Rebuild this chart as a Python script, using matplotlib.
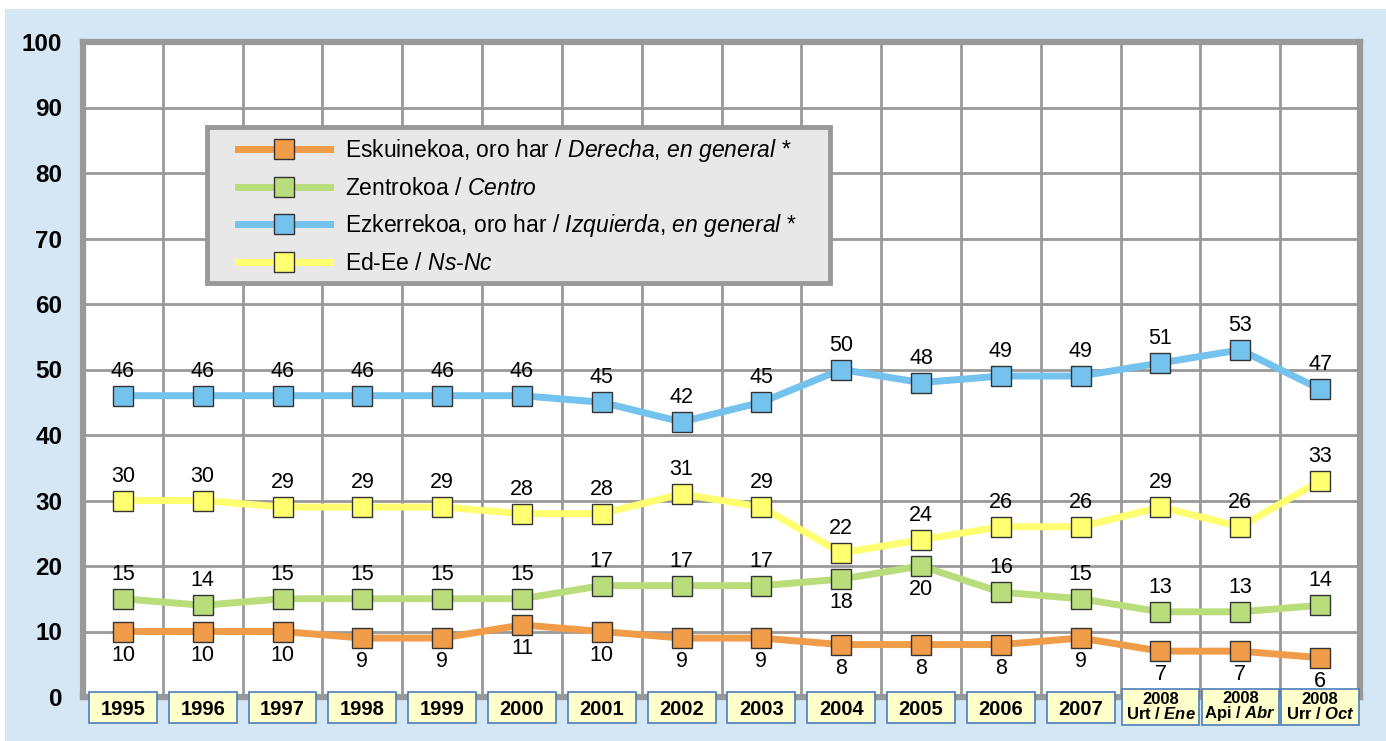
import matplotlib.pyplot as plt
from matplotlib.patches import Rectangle
import matplotlib.transforms as mtransforms

plt.rcParams['font.family'] = ['Liberation Sans', 'DejaVu Sans']
plt.rcParams['mathtext.fontset'] = 'custom'
plt.rcParams['mathtext.rm'] = 'Liberation Sans'
plt.rcParams['mathtext.it'] = 'Liberation Sans:italic'
plt.rcParams['mathtext.bf'] = 'Liberation Sans:bold'
plt.rcParams['mathtext.bfit'] = 'Liberation Sans:bold:italic'

# data
years = ['1995', '1996', '1997', '1998', '1999', '2000', '2001', '2002',
         '2003', '2004', '2005', '2006', '2007',
         '2008\nUrt / $\\mathbfit{Ene}$', '2008\nApi / $\\mathbfit{Abr}$',
         '2008\nUrr / $\\mathbfit{Oct}$']
derecha = [10, 10, 10, 9, 9, 11, 10, 9, 9, 8, 8, 8, 9, 7, 7, 6]
centro = [15, 14, 15, 15, 15, 15, 17, 17, 17, 18, 20, 16, 15, 13, 13, 14]
izquierda = [46, 46, 46, 46, 46, 46, 45, 42, 45, 50, 48, 49, 49, 51, 53, 47]
nsnc = [30, 30, 29, 29, 29, 28, 28, 31, 29, 22, 24, 26, 26, 29, 26, 33]

labels = ['Eskuinekoa, oro har / $\\mathit{Derecha}$, $\\mathit{en\\ general}$ *',
          'Zentrokoa / $\\mathit{Centro}$',
          'Ezkerrekoa, oro har / $\\mathit{Izquierda}$, $\\mathit{en\\ general}$ *',
          'Ed-Ee / $\\mathit{Ns}$-$\\mathit{Nc}$']
colors = ['#F09C48', '#B8DD7A', '#74C2EE', '#FFFF70']

fig = plt.figure(figsize=(13.86, 7.41), dpi=100, facecolor='white')
# light blue panel
fig.patches.append(Rectangle((5 / 1386, 0), 1 - 5 / 1386, 1 - 9 / 741,
                             transform=fig.transFigure, facecolor='#D5E7F5',
                             edgecolor='none', zorder=-10))

ax = fig.add_axes([83 / 1386, 1 - 697 / 741, 1277 / 1386, 655 / 741])
ax.set_facecolor('white')
n = len(years)
x = list(range(n))
ax.set_xlim(-0.5, n - 0.5)
ax.set_ylim(0, 100)

ax.set_yticks(range(0, 101, 10))
ax.set_yticklabels([str(v) for v in range(0, 101, 10)], fontsize=17.5,
                   fontweight='bold')
ax.tick_params(axis='y', length=0, pad=15)
ax.set_xticks([i + 0.5 for i in range(n - 1)])
ax.set_xticklabels([])
ax.tick_params(axis='x', length=0)
ax.grid(True, color='#999999', linewidth=2)
ax.set_axisbelow(True)
for s in ax.spines.values():
    s.set_color('#999999')
    s.set_linewidth(4.5)

series = [derecha, centro, izquierda, nsnc]
handles = []
for vals, col, lab in zip(series, colors, labels):
    h, = ax.plot(x, vals, color=col, linewidth=5, marker='s', markersize=15,
                 markerfacecolor=col, markeredgecolor='#333333',
                 markeredgewidth=1.0, label=lab, zorder=3)
    handles.append(h)

# value labels
fs = 15.5
for i, v in enumerate(derecha):
    ax.annotate(str(v), (i, v), xytext=(0, -9.5), textcoords='offset points',
                ha='center', va='top', fontsize=fs, zorder=7)
for i, v in enumerate(centro):
    below = i in (9, 10)
    ax.annotate(str(v), (i, v), xytext=(0, -9.5 if below else 10),
                textcoords='offset points', ha='center',
                va='top' if below else 'bottom', fontsize=fs)
for vals in (izquierda, nsnc):
    for i, v in enumerate(vals):
        ax.annotate(str(v), (i, v), xytext=(0, 10), textcoords='offset points',
                    ha='center', va='bottom', fontsize=fs)

# category label boxes
trans = mtransforms.blended_transform_factory(ax.transData, ax.transAxes)
px = 1 / 655
for i, lab in enumerate(years):
    two = '\n' in lab
    top = (8 if two else 5) * px
    bot = (-28 if two else -26) * px
    w = 0.97 if two else 0.85
    ax.add_patch(Rectangle((i - w / 2, bot), w, top - bot, transform=trans,
                           facecolor='#FFFFCC', edgecolor='#4A7EBB',
                           linewidth=1.2, clip_on=False, zorder=5))
    ax.text(i, (top + bot) / 2 - (0 if two else 2 * px), lab, transform=trans,
            ha='center', va='center', fontsize=12 if two else 14.5,
            fontweight='bold', linespacing=0.9, zorder=6, clip_on=False)

# legend box (drawn separately so the entries can sit further in)
ax.add_patch(Rectangle((124 / 1277, 414 / 655), 623 / 1277, 156 / 655,
                       transform=ax.transAxes, facecolor='#E8E8E8',
                       edgecolor='#999999', linewidth=3.5, zorder=9))
leg = ax.legend(handles=handles, loc='upper left',
                bbox_to_anchor=(155 / 1277, 560 / 655), fontsize=16.5,
                frameon=False, handlelength=4.0, handletextpad=0.65,
                labelspacing=0.55, borderpad=0, borderaxespad=0)
leg.set_zorder(10)

fig.savefig('out.png', dpi=100, facecolor=fig.get_facecolor())
